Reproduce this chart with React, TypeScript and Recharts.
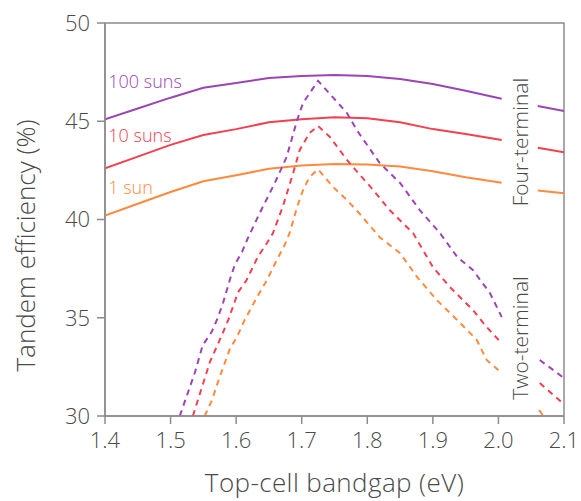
import React from "react";
import { LineChart, Line, XAxis, YAxis, ReferenceArea, ReferenceDot } from "recharts";

// four-terminal (solid) curves share one x grid; null = gap behind the label
const fourX = [1.4, 1.45, 1.5, 1.55, 1.6, 1.65, 1.7, 1.75, 1.8, 1.85, 1.9, 1.95, 2.005, 2.03, 2.06, 2.1];
const four100 = [45.1, 45.65, 46.2, 46.7, 46.95, 47.2, 47.3, 47.35, 47.3, 47.15, 46.9, 46.55, 46.15, null, 45.78, 45.52];
const four10 = [42.6, 43.2, 43.8, 44.3, 44.6, 44.95, 45.1, 45.2, 45.15, 44.95, 44.6, 44.35, 44.05, null, 43.65, 43.42];
const four1 = [40.2, 40.8, 41.4, 41.95, 42.25, 42.58, 42.75, 42.82, 42.8, 42.7, 42.45, 42.15, 41.87, null, 41.47, 41.33];

// two-terminal (dashed) curves
const two100X = [1.514, 1.537, 1.549, 1.563, 1.572, 1.58, 1.591, 1.598, 1.609, 1.618, 1.636, 1.659, 1.677, 1.693, 1.702, 1.725, 1.748, 1.769, 1.784, 1.819, 1.85, 1.88, 1.911, 1.937, 1.961, 1.987, 2.005, 2.03, 2.063, 2.1];
const two100 = [30, 32.2, 33.6, 34.3, 35.0, 35.75, 37.0, 37.7, 38.35, 39.06, 40.33, 41.86, 43.18, 45.06, 45.93, 47.06, 46.2, 45.42, 44.55, 42.87, 41.86, 40.48, 39.3, 38.1, 37.43, 36.26, 35.04, null, 32.85, 31.93];
const two10X = [1.534, 1.548, 1.56, 1.575, 1.588, 1.595, 1.603, 1.616, 1.633, 1.647, 1.656, 1.671, 1.687, 1.697, 1.712, 1.725, 1.743, 1.769, 1.786, 1.809, 1.834, 1.87, 1.9, 1.926, 1.961, 1.982, 2.005, 2.03, 2.063, 2.1];
const two10 = [30, 31.48, 32.75, 33.87, 34.89, 35.55, 36.3, 36.92, 38.1, 38.8, 39.3, 40.64, 42.37, 43.54, 44.4, 44.76, 44.2, 43.03, 42.37, 41.5, 40.48, 39.3, 37.58, 36.56, 35.4, 34.53, 33.7, null, 31.68, 30.6];
const two1X = [1.552, 1.563, 1.575, 1.591, 1.601, 1.613, 1.632, 1.647, 1.662, 1.674, 1.682, 1.693, 1.702, 1.712, 1.725, 1.748, 1.769, 1.786, 1.819, 1.85, 1.876, 1.906, 1.937, 1.967, 1.982, 2.005, 2.03, 2.062, 2.075];
const two1 = [30, 30.8, 32.0, 33.46, 34.0, 34.89, 36.06, 36.92, 37.94, 38.7, 39.36, 40.64, 41.5, 42.16, 42.55, 41.65, 40.99, 40.38, 39.1, 38.29, 37.07, 35.9, 34.89, 33.87, 32.85, 32.19, null, 30.3, 29.7];

const xTicks = [1.4, 1.5, 1.6, 1.7, 1.8, 1.9, 2.0, 2.1];
const yTicks = [30, 35, 40, 45, 50];

const PURPLE = "#9b45b5";
const RED = "#f2404f";
const ORANGE = "#ff8a3d";
const INK = "#4a4a4a";
const AXIS = "#8c8c8c";
const FONT = "'Open Sans', sans-serif";

const pts = (xs: number[], ys: (number | null)[]) => xs.map((x, i) => ({ x, y: ys[i] }));

const tag = (text: string, color: string, size: number, vertical = false) => (props: any) => {
  const { x, y } = props.viewBox;
  return (
    <text
      x={x}
      y={y}
      fill={color}
      fontSize={size}
      fontFamily={FONT}
      fontWeight={300}
      textAnchor={vertical ? "middle" : "start"}
      dominantBaseline={vertical ? "central" : "auto"}
      transform={vertical ? `rotate(-90 ${x} ${y})` : undefined}
    >
      {text}
    </text>
  );
};

export default function App() {
  const tick = { fill: INK, fontSize: 22, fontFamily: FONT, fontWeight: 300 };
  return (
    <div style={{ position: "absolute", left: 0, top: 0, background: "#fff" }}>
      <LineChart width={581} height={501} margin={{ top: 23, right: 17, bottom: 0, left: 0 }}>
        <XAxis
          dataKey="x"
          type="number"
          domain={[1.4, 2.1]}
          ticks={xTicks}
          allowDataOverflow
          tickFormatter={(v) => v.toFixed(1)}
          tick={tick}
          height={85}
          tickSize={8}
          tickMargin={8}
          stroke={AXIS}
          strokeWidth={1.5}
          label={{ value: "Top-cell bandgap (eV)", position: "insideBottom", offset: 9, fill: INK, fontSize: 26, letterSpacing: 0.4, fontFamily: FONT, fontWeight: 300 }}
        />
        <YAxis
          type="number"
          domain={[30, 50]}
          ticks={yTicks}
          allowDataOverflow
          tick={tick}
          width={105}
          tickSize={8}
          tickMargin={7}
          stroke={AXIS}
          strokeWidth={1.5}
          label={{
            content: (p: any) => {
              const vb = p.viewBox;
              const cx = vb.x + 25;
              const cy = vb.y + vb.height / 2 + 26;
              return (
                <text x={cx} y={cy} transform={`rotate(-90 ${cx} ${cy})`} textAnchor="middle" dominantBaseline="central" fill={INK} fontSize={26} fontFamily={FONT} fontWeight={300}>
                  Tandem efficiency (%)
                </text>
              );
            },
          }}
        />
        <ReferenceArea x1={1.4} x2={2.1} y1={30} y2={50} fill="none" stroke={AXIS} strokeWidth={1.5} />

        <Line data={pts(fourX, four100)} dataKey="y" stroke={PURPLE} strokeWidth={2} dot={false} activeDot={false} isAnimationActive={false} />
        <Line data={pts(fourX, four10)} dataKey="y" stroke={RED} strokeWidth={2} dot={false} activeDot={false} isAnimationActive={false} />
        <Line data={pts(fourX, four1)} dataKey="y" stroke={ORANGE} strokeWidth={2} dot={false} activeDot={false} isAnimationActive={false} />

        <Line data={pts(two100X, two100)} dataKey="y" stroke={PURPLE} strokeWidth={2} strokeDasharray="6 5" dot={false} activeDot={false} isAnimationActive={false} />
        <Line data={pts(two10X, two10)} dataKey="y" stroke={RED} strokeWidth={2} strokeDasharray="6 5" dot={false} activeDot={false} isAnimationActive={false} />
        <Line data={pts(two1X, two1)} dataKey="y" stroke={ORANGE} strokeWidth={2} strokeDasharray="6 5" dot={false} activeDot={false} isAnimationActive={false} />

        <ReferenceDot x={1.405} y={46.69} r={0} label={{ content: tag("100 suns", PURPLE, 18) }} />
        <ReferenceDot x={1.405} y={43.96} r={0} label={{ content: tag("10 suns", RED, 18) }} />
        <ReferenceDot x={1.405} y={41.3} r={0} label={{ content: tag("1 sun", ORANGE, 18) }} />
        <ReferenceDot x={2.0326} y={43.94} r={0} label={{ content: tag("Four-terminal", INK, 21, true) }} />
        <ReferenceDot x={2.0326} y={33.97} r={0} label={{ content: tag("Two-terminal", INK, 21, true) }} />
      </LineChart>
    </div>
  );
}
